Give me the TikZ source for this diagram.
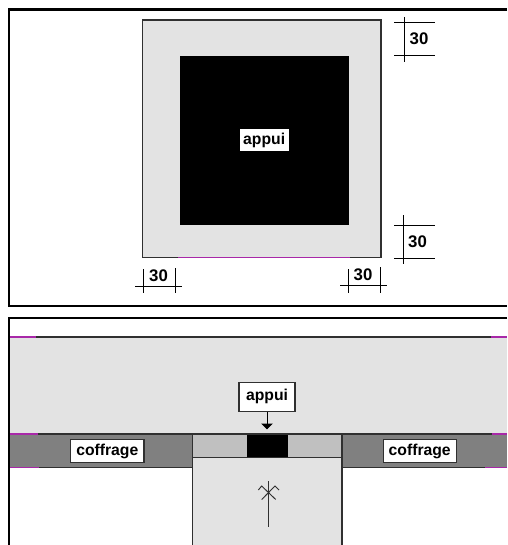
\documentclass[tikz,border=0pt]{standalone}
\usepackage{fontspec}
\setmainfont{Liberation Sans}
\usetikzlibrary{arrows.meta}
\definecolor{lightgr}{HTML}{E3E3E3}
\definecolor{midgr}{HTML}{808080}
\definecolor{palegr}{HTML}{C0C0C0}
\definecolor{edgegr}{HTML}{303030}
\definecolor{magentaline}{HTML}{A828A8}
\tikzset{
  x=0.75pt,y=-0.75pt,
  frameline/.style={black,line width=1.9pt},
  edge/.style={edgegr,line width=0.85pt},
  mag/.style={magentaline,line width=0.85pt},
  dim/.style={black,line width=0.75pt},
  lab/.style={fill=white,inner sep=0pt,font=\bfseries\fontsize{11.8}{13}\selectfont,text=black,anchor=center},
  boxlab/.style={lab,draw=edgegr,line width=0.8pt},
  dimtxt/.style={inner sep=0pt,font=\bfseries\fontsize{12.6}{14}\selectfont,text=black}
}
\begin{document}
\begin{tikzpicture}
\useasboundingbox (0,0) rectangle (507,545);
\fill[white] (0,0) rectangle (507,545);
% top frame
\draw[frameline] (507,9.5) -- (9,9.5) -- (9,306) -- (507,306);
% plan
\draw[edge,fill=lightgr] (142.5,20) rectangle (381,257.5);
\draw[mag] (178,257.5) -- (350,257.5);
\node[fill=black,draw=none,inner sep=0pt,minimum width=126.75pt,minimum height=126.75pt,anchor=north west] (blk) at (179.5,55.5) {};
\node[lab,minimum width=37pt,minimum height=16.5pt] (ap1) at (264.2,140) {appui};
% dimensions
\draw[dim] (135,286) -- (182,286);
\draw[dim] (143,269) -- (143,293);
\draw[dim] (175,268) -- (175,293);
\node[dimtxt] (d1) at (158.5,276) {30};
\draw[dim] (340,285) -- (387,285);
\draw[dim] (348,269) -- (348,293);
\draw[dim] (380.7,267) -- (380.7,293);
\node[dimtxt] (d2) at (363,275) {30};
\draw[dim] (394,23) -- (435,23);
\draw[dim] (394,56) -- (435,56);
\draw[dim] (404,17) -- (404,62);
\node[dimtxt] (d3) at (419,39) {30};
\draw[dim] (394,225) -- (435,225);
\draw[dim] (394,258.5) -- (435,258.5);
\draw[dim] (403,215) -- (403,264);
\node[dimtxt] (d4) at (417.5,242) {30};
% second frame
\fill[lightgr] (10,337) rectangle (507,434);
\fill[midgr] (10,434) rectangle (192.5,467.5);
\fill[midgr] (342,434) rectangle (507,467.5);
\fill[palegr] (192.5,434) rectangle (342,457.5);
\fill[black] (247,434) rectangle (287.5,457.5);
\fill[lightgr] (192.5,457.5) rectangle (342,545);
\draw[edge] (10,337) -- (507,337);
\draw[edge] (10,434) -- (507,434);
\draw[edge] (10,467.5) -- (192.5,467.5);
\draw[edge] (342,467.5) -- (507,467.5);
\draw[edge] (192.5,457.5) -- (342,457.5);
\draw[edge] (192.5,434) -- (192.5,545);
\draw[edge] (342,434) -- (342,545);
\draw[mag] (10,337) -- (36,337);
\draw[mag] (491,337) -- (507,337);
\draw[mag] (10,434) -- (38,434);
\draw[mag] (492,434) -- (507,434);
\draw[mag] (10,467.5) -- (39,467.5);
\draw[mag] (485,467.5) -- (507,467.5);
\draw[frameline] (507,318) -- (9,318) -- (9,545);
\node[boxlab,minimum width=55pt,minimum height=17.5pt] (c1) at (107.3,451) {coffrage};
\node[boxlab,minimum width=55pt,minimum height=17.5pt] (c2) at (419.7,451) {coffrage};
\node[boxlab,minimum width=42pt,minimum height=21.5pt] (ap2) at (267,396.7) {appui};
\coordinate (tip) at (267,429.5);
\draw[black,line width=0.75pt,-{Triangle[length=4.5pt,width=8.5pt]}] (ap2.south) -- (tip);
% north symbol
\draw[edgegr,line width=0.7pt] (268.4,481) -- (268.4,527);
\draw[edgegr,line width=0.7pt] (258.3,490) -- (261.7,486) -- (275.7,499.5);
\draw[edgegr,line width=0.7pt] (279,490) -- (275,486) -- (261.7,499.5);
\end{tikzpicture}
\end{document}
